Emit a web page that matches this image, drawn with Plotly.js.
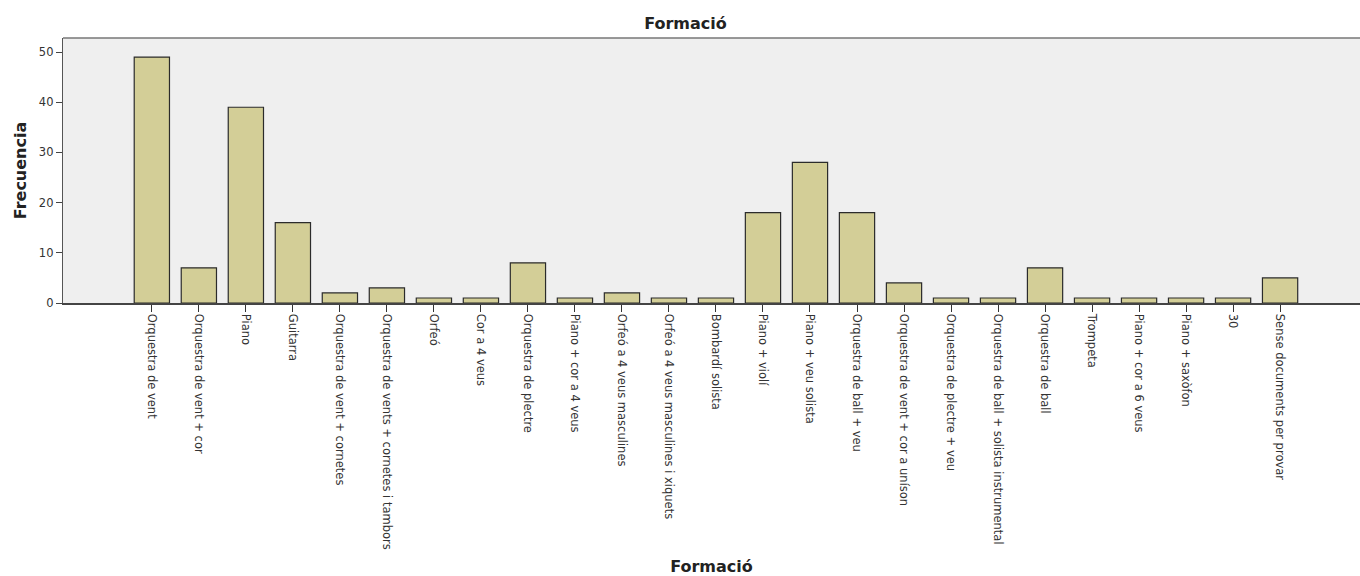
<!DOCTYPE html>
<html><head><meta charset="utf-8">
<script src="https://cdn.plot.ly/plotly-3.0.1.min.js"></script>
<style>html,body{margin:0;padding:0;background:#fff;}#chart{width:1360px;height:576px;}</style>
</head><body><div id="chart"></div>
<script>
const categories = [
  "Orquestra de vent","Orquestra de vent + cor","Piano","Guitarra","Orquestra de vent + cornetes",
  "Orquestra de vents + cornetes i tambors","Orfeó","Cor a 4 veus","Orquestra de plectre","Piano + cor a 4 veus",
  "Orfeó a 4 veus masculines","Orfeó a 4 veus masculines i xiquets","Bombardí solista","Piano + violí","Piano + veu solista",
  "Orquestra de ball + veu","Orquestra de vent + cor a uníson","Orquestra de plectre + veu","Orquestra de ball + solista instrumental","Orquestra de ball",
  "Trompeta","Piano + cor a 6 veus","Piano + saxòfon","30","Sense documents per provar"
];
const frequencies = [49,7,39,16,2,3,1,1,8,1,2,1,1,18,28,18,4,1,1,7,1,1,1,1,5];
const yTicks = [0,10,20,30,40,50];

const trace = {
  type: 'bar',
  x: categories.map((c,i)=>i),
  y: frequencies,
  width: 0.75,
  marker: {color: '#d3ce97', line: {color: '#2b2b2b', width: 1.2}},
  hoverinfo: 'skip'
};
const font = "'DejaVu Sans', sans-serif";
const layout = {
  width: 1360, height: 576,
  margin: {l: 63, r: 0, t: 38, b: 273},
  paper_bgcolor: '#ffffff',
  plot_bgcolor: '#efefef',
  showlegend: false,
  bargap: 0.25,
  title: {text: '<b>Formació</b>', x: 0.504, xanchor: 'center', y: 1, yanchor: 'top', pad: {t: 18},
          font: {family: font, size: 16, color: '#222'}},
  xaxis: {
    range: [-1.89, 25.7],
    tickmode: 'array',
    tickvals: categories.map((c,i)=>i),
    ticktext: categories,
    tickangle: 90,
    ticks: 'outside', ticklen: 7, tickcolor: '#333', tickwidth: 1,
    tickfont: {family: font, size: 11.5, color: '#333'},
    showline: true, linecolor: '#444', linewidth: 1.5,
    showgrid: false, zeroline: false,
    title: {text: '<b>Formació</b>', standoff: 12, font: {family: font, size: 16, color: '#222'}},
    automargin: false
  },
  yaxis: {
    range: [0, 52.8],
    tickmode: 'array', tickvals: yTicks, ticktext: yTicks.map(String),
    ticks: 'outside', ticklen: 6, tickcolor: '#444', tickwidth: 1,
    tickfont: {family: font, size: 11.5, color: '#333'},
    showline: true, linecolor: '#555', linewidth: 1.2,
    mirror: false,
    showgrid: false, zeroline: false,
    title: {text: '<b>Frecuencia</b>', standoff: 8, font: {family: font, size: 16, color: '#222'}},
    automargin: false
  },
  shapes: [
    {type: 'line', xref: 'paper', yref: 'paper', x0: 0, x1: 1, y0: 1, y1: 1, line: {color: '#777', width: 1.5}}
  ]
};
Plotly.newPlot('chart', [trace], layout, {displayModeBar: false, staticPlot: true});
</script>
</body></html>
